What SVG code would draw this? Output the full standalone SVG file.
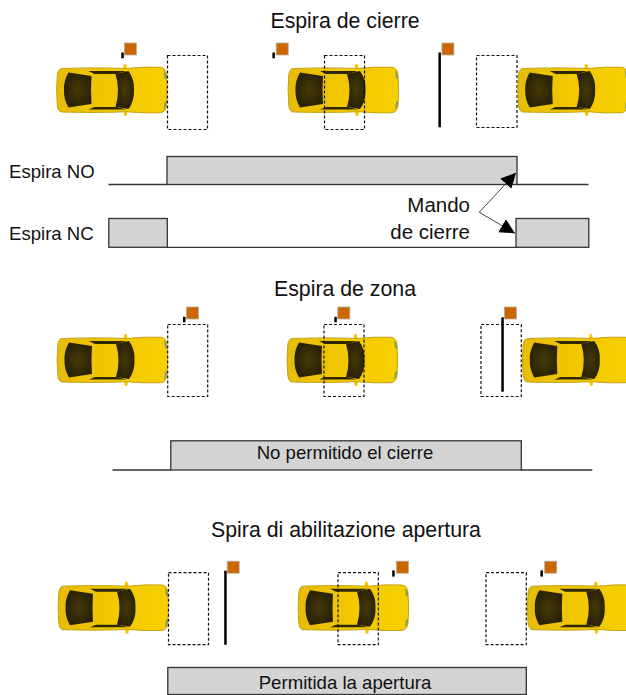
<svg xmlns="http://www.w3.org/2000/svg" xmlns:xlink="http://www.w3.org/1999/xlink" width="626" height="695" viewBox="0 0 626 695">
<style>
text{font-family:"Liberation Sans",Arial,sans-serif;fill:#111}
.t{font-size:21.300px;text-anchor:middle}
.l{font-size:18.600px}
.c{font-size:18.600px;text-anchor:middle}
.e{font-size:20.500px;text-anchor:end}
.z{fill:#fff;stroke:#111;stroke-width:1.200;stroke-dasharray:3 2}
.o{fill:none;stroke:#111;stroke-width:1.200;stroke-dasharray:3 2}
.b{fill:#d4d4d4;stroke:#333;stroke-width:1.300}
.w{fill:none;stroke:#333;stroke-width:1.300}
.a{fill:none;stroke:#333;stroke-width:.9}
.f{fill:#cc6600;stroke:#b5aca0;stroke-width:.8}
.p{fill:#000}
</style>
<defs>
<marker id="ah" markerWidth="16" markerHeight="16" refX="15" refY="7.500" orient="auto" markerUnits="userSpaceOnUse"><path d="M0 0L15 7.500L0 15Z" fill="#000"/></marker>
<linearGradient id="cg" x1="0" y1="0" x2="1" y2="0"><stop offset="0" stop-color="#e6bc08"/><stop offset=".5" stop-color="#f2c800"/><stop offset="1" stop-color="#f7d000"/></linearGradient>
<radialGradient id="wg"><stop offset="0" stop-color="#463a08"/><stop offset="1" stop-color="#2a2204"/></radialGradient>
<g id="car">
<ellipse cx="68.500" cy="0" rx="1.800" ry="3" fill="#f0c800"/><ellipse cx="69" cy="46" rx="1.800" ry="3" fill="#f0c800"/>
<path d="M5 1.500Q40 .3 70 1.500Q88 -.5 104 .3Q109.500 1 110 8Q111.200 23 110 38Q109.500 45 104 45.700Q88 46.500 70 44.700Q40 46 5 45Q1.500 44.500 .8 38Q-.6 23 .8 8Q1.500 2 5 1.500Z" fill="url(#cg)" stroke="#c4a214" stroke-width="1"/>
<path d="M107 3Q110 6 110.300 12L108 11ZM107 43Q110 40 110.300 34L108 35Z" fill="#8f9a55"/>
<path d="M12 5.500L35 9Q34 23 35 37L12 40.500Q7 32 7.500 23Q7 14 12 5.500Z" fill="url(#wg)"/>
<path d="M59 7L72 4Q78 12 77.500 23Q78 34 72 42L59 40Q64 23 59 7Z" fill="url(#wg)"/>
<path d="M32 4L70 4L60 7L38 7ZM32 42.500L70 42.500L60 40L38 40Z" fill="#2f2705"/>
</g>
</defs>
<g id="title1"><text class="t" x="345" y="28">Espira de cierre</text></g>
<g id="car1a"><use xlink:href="#car" href="#car" x="56.500" y="67"/></g>
<g id="zone1a"><rect class="z" x="167.500" y="55.500" width="40" height="74"/></g>
<g id="flag1a"><rect class="f" x="124.400" y="43" width="12" height="12"/><rect class="p" x="121.300" y="52.500" width="2.500" height="5.800"/></g>
<g id="car1b"><use xlink:href="#car" href="#car" x="288" y="67"/></g>
<g id="zone1b"><rect class="o" x="324.500" y="55.500" width="40" height="74"/></g>
<g id="flag1b"><rect class="f" x="276.200" y="43" width="12" height="12"/><rect class="p" x="272.400" y="52.500" width="2.500" height="5.800"/></g>
<g id="flag1c"><rect class="f" x="441.900" y="43" width="12" height="12"/><rect class="p" x="438.400" y="52.500" width="2.500" height="74.800"/></g>
<g id="zone1c"><rect class="z" x="476.500" y="55.500" width="40.500" height="72"/></g>
<g id="car1c"><use xlink:href="#car" href="#car" x="517.700" y="67"/></g>
<g id="label-no"><text class="l" x="9" y="178">Espira NO</text></g>
<g id="label-nc"><text class="l" x="9" y="240">Espira NC</text></g>
<g id="signal-no"><rect class="b" x="167" y="156.500" width="350" height="28"/></g>
<g id="signal-nc1"><rect class="b" x="108.800" y="218.500" width="58.500" height="28.800"/></g>
<g id="signal-nc2"><rect class="b" x="516" y="218.500" width="72.800" height="28.800"/></g>
<g id="mando"><text class="e" x="470" y="212">Mando</text><text class="e" x="470" y="239">de cierre</text></g>
<g id="title2"><text class="t" x="345" y="296">Espira de zona</text></g>
<g id="car2a"><use xlink:href="#car" href="#car" x="57" y="337"/></g>
<g id="zone2a"><rect class="z" x="167.700" y="324.500" width="40" height="72"/></g>
<g id="flag2a"><rect class="f" x="186.400" y="307" width="12" height="12"/><rect class="p" x="183" y="316.800" width="2.500" height="5.500"/></g>
<g id="car2b"><use xlink:href="#car" href="#car" x="287" y="337"/></g>
<g id="zone2b"><rect class="o" x="324" y="324.500" width="40" height="72"/></g>
<g id="flag2b"><rect class="f" x="337.800" y="307" width="12" height="12"/><rect class="p" x="334.300" y="316.800" width="2.500" height="5.500"/></g>
<g id="zone2c"><rect class="z" x="481" y="324.500" width="40.300" height="72"/></g>
<g id="flag2c"><rect class="f" x="504.400" y="307" width="12" height="12"/><rect class="p" x="501.300" y="317.300" width="2.500" height="74.400"/></g>
<g id="car2c"><use xlink:href="#car" href="#car" x="522.300" y="337"/></g>
<g id="signal-zone"><rect class="b" x="170.800" y="440.800" width="350.500" height="29.200"/><text class="c" x="345" y="459">No permitido el cierre</text></g>
<g id="title3"><text class="t" x="346" y="537">Spira di abilitazione apertura</text></g>
<g id="car3a"><use xlink:href="#car" href="#car" x="58" y="584.700"/></g>
<g id="zone3a"><rect class="z" x="168.500" y="572.700" width="40" height="72"/></g>
<g id="flag3a"><rect class="f" x="227.200" y="561.200" width="12" height="12"/><rect class="p" x="224.200" y="570.700" width="2.500" height="74"/></g>
<g id="car3b"><use xlink:href="#car" href="#car" x="298" y="584.700"/></g>
<g id="zone3b"><rect class="o" x="338" y="572.700" width="40.300" height="72"/></g>
<g id="flag3b"><rect class="f" x="396.400" y="561.200" width="12" height="12"/><rect class="p" x="392.200" y="570.400" width="2.500" height="6.200"/></g>
<g id="zone3c"><rect class="z" x="486" y="572.700" width="40.300" height="72"/></g>
<g id="flag3c"><rect class="f" x="544.700" y="561.200" width="12" height="12"/><rect class="p" x="540.400" y="570.400" width="2.500" height="6.200"/></g>
<g id="car3c"><use xlink:href="#car" href="#car" x="527.300" y="584.700"/></g>
<g id="signal-open"><rect class="b" x="167.800" y="667.500" width="358.500" height="27"/><text class="c" x="345" y="689">Permitida la apertura</text></g>
<g id="connectors">
<path class="w" d="M108.500 184.500H167M517 184.500H588.500M167 247.300H516"/>
<path class="a" d="M479.300 212.300L516 172.700" marker-end="url(#ah)"/>
<path class="a" d="M479.300 212.300L515 233.300" marker-end="url(#ah)"/>
<path class="w" d="M112.500 470H171M521 470H592.300"/>
</g>
</svg>
